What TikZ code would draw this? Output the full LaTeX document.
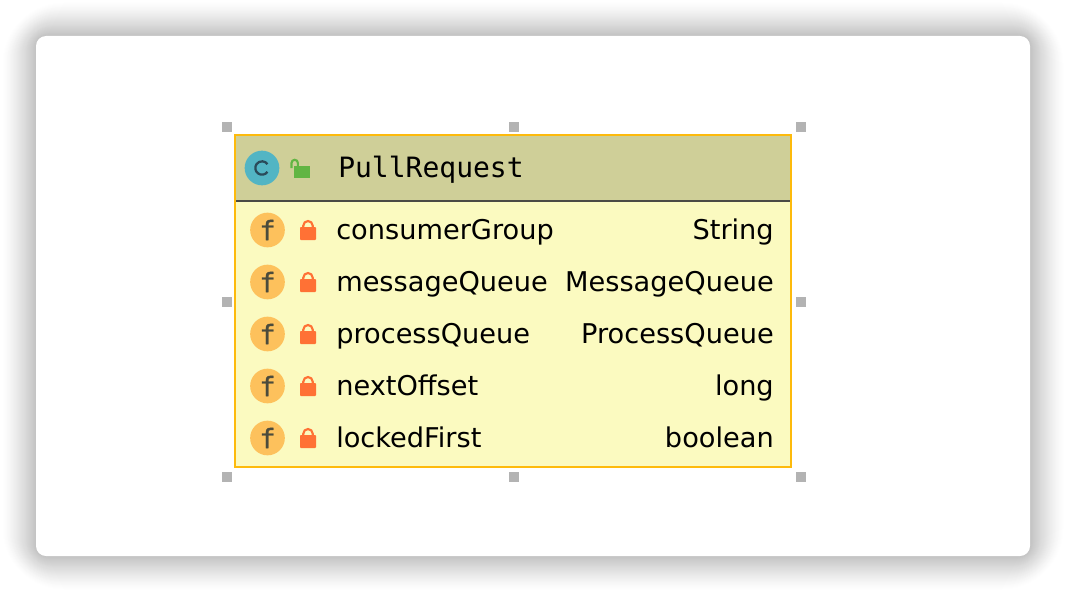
\documentclass[tikz,border=0pt]{standalone}
\usepackage{fontspec}
\setmainfont{DejaVu Sans}
\newfontfamily\titlefont{DejaVu Sans Mono}
\newfontfamily\badgefont[FakeBold=1.2]{DejaVu Sans Mono}
\definecolor{hdr}{HTML}{CFCF98}
\definecolor{bodyc}{HTML}{FBFAC0}
\definecolor{brd}{HTML}{FDBA0C}
\definecolor{sep}{HTML}{4A4A44}
\definecolor{hand}{HTML}{B3B3B3}
\definecolor{fcirc}{HTML}{FDC15C}
\definecolor{fglyph}{HTML}{4B4B3C}
\definecolor{lockc}{HTML}{FF7135}
\definecolor{ccirc}{HTML}{52B5C4}
\definecolor{cglyph}{HTML}{2A4B5A}
\definecolor{openl}{HTML}{62B543}
\tikzset{
 x=0.75pt,y=-0.75pt,
 handle/.style={fill=hand,draw=none,minimum size=7.5pt,inner sep=0pt,outer sep=0pt,shape=rectangle},
 fieldname/.style={anchor=base west,inner sep=0pt,font=\fontsize{20.4pt}{24pt}\selectfont,text=black},
 fieldtype/.style={anchor=base east,inner sep=0pt,font=\fontsize{20.4pt}{24pt}\selectfont,text=black},
 title/.style={anchor=base west,inner sep=0pt,font=\titlefont\fontsize{21pt}{24pt}\selectfont,text=black},
 fbadge/.style={circle,fill=fcirc,draw=none,minimum size=26pt,inner sep=0pt,text=fglyph,font=\badgefont\fontsize{20pt}{20pt}\selectfont},
 cbadge/.style={circle,fill=ccirc,draw=none,minimum size=26pt,inner sep=0pt},
}
\begin{document}
\begin{tikzpicture}
\useasboundingbox (0,0) rectangle (1066,592);
\fill[white] (0,0) rectangle (1066,592);
% shadow: opaque layers, outermost first
\foreach \i in {33,32,...,0}{
  \pgfmathsetmacro{\p}{24*(1-\i/34)^1.25}
  \fill[black!\p!white,rounded corners={(\i*1.5+12)*0.75pt}]
    (36-\i,36-\i) rectangle (1030+\i,556+\i);
}
\fill[white,rounded corners=7.5pt] (36,36) rectangle (1030,556);
% class box
\fill[bodyc] (235,135) rectangle (791,467);
\fill[hdr] (235,135) rectangle (791,201);
\draw[sep,line width=1.5pt] (235,201) -- (791,201);
\draw[brd,line width=1.5pt] (235,135) rectangle (791,467);
% handles
\foreach \n/\x/\y in {h1/227/127,h2/514/127,h3/801/127,h4/227/302,h5/801/302,h6/227/477,h7/514/477,h8/801/477}{
  \node[handle] (\n) at (\x,\y) {};
}
% header
\node[cbadge] (cb) at (262,168) {};
\draw[cglyph,line width=1.7pt] ([shift={(35:6.7)}]cb.center) arc[start angle=35,end angle=325,radius=6.7];
\fill[openl] (294,165.5) rectangle (310,178);
\draw[openl,line width=1.6pt] (291.5,168) -- (291.5,163) arc[start angle=180,end angle=360,radius=3.2] -- (297.9,166);
\node[title] (cname) at (338,177) {PullRequest};
% rows
\foreach \n/\y/\a/\b in {a/230/consumerGroup/String,b/282/messageQueue/MessageQueue,c/334/processQueue/ProcessQueue,d/386/nextOffset/long,e/438/lockedFirst/boolean}{
  \node[fbadge] (f\n) at (267.5,\y) {f};
  \fill[lockc,rounded corners=0.6pt] (300,\y-3) rectangle (316,\y+10);
  \draw[lockc,line width=1.6pt] (303.3,\y-2) -- (303.3,\y-4.3) arc[start angle=180,end angle=360,radius=4.7] -- (312.7,\y-2);
  \node[fieldname] (n\n) at (336,\y+9.5) {\a};
  \node[fieldtype] (t\n) at (774,\y+9.5) {\b};
}
\end{tikzpicture}
\end{document}
